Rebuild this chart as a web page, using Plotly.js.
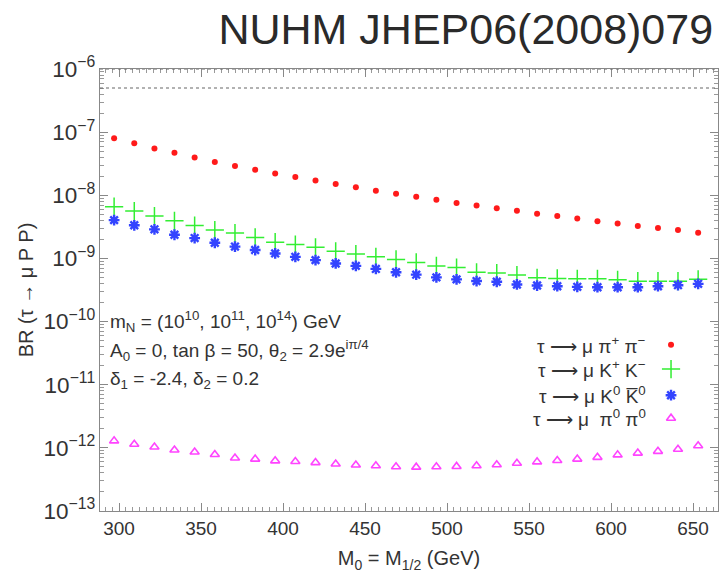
<!DOCTYPE html>
<html>
<head>
<meta charset="utf-8">
<script src="https://cdn.plot.ly/plotly-3.0.1.min.js"></script>
<style>
  html, body { margin: 0; padding: 0; background: #fff; }
  #chart { width: 724px; height: 574px; }
</style>
</head>
<body>
<div id="chart"></div>
<script>
// Common scalar mass M0 = M1/2 (GeV)
const massGeV = [297, 309.3, 321.6, 333.8, 346.1, 358.4, 370.7, 383.0, 395.2, 407.5,
                 419.8, 432.1, 444.4, 456.6, 468.9, 481.2, 493.5, 505.8, 518.0, 530.3,
                 542.6, 554.9, 567.2, 579.4, 591.7, 604.0, 616.3, 628.6, 640.8, 653.1];

// BR(tau -> mu pi+ pi-)
const brPiPi = [8.0e-8, 6.65e-8, 5.53e-8, 4.71e-8, 3.96e-8, 3.37e-8, 2.91e-8, 2.54e-8, 2.22e-8, 1.94e-8,
                1.71e-8, 1.51e-8, 1.34e-8, 1.18e-8, 1.06e-8, 9.46e-9, 8.47e-9, 7.57e-9, 6.86e-9, 6.22e-9,
                5.70e-9, 5.10e-9, 4.68e-9, 4.29e-9, 3.89e-9, 3.57e-9, 3.27e-9, 3.04e-9, 2.82e-9, 2.56e-9];

// BR(tau -> mu K+ K-)
const brKK = [6.6e-9, 5.64e-9, 4.68e-9, 3.94e-9, 3.31e-9, 2.82e-9, 2.52e-9, 2.15e-9, 1.81e-9, 1.66e-9,
              1.50e-9, 1.30e-9, 1.17e-9, 1.06e-9, 9.64e-10, 8.63e-10, 7.62e-10, 7.16e-10, 6.03e-10, 5.88e-10,
              5.46e-10, 4.94e-10, 4.83e-10, 4.77e-10, 4.77e-10, 4.59e-10, 4.37e-10, 4.37e-10, 4.37e-10, 4.66e-10];

// BR(tau -> mu K0 K0bar)
const brK0K0 = [4.04e-9, 3.35e-9, 2.89e-9, 2.37e-9, 2.10e-9, 1.77e-9, 1.54e-9, 1.36e-9, 1.20e-9, 1.06e-9,
                9.40e-10, 8.32e-10, 7.62e-10, 6.82e-10, 6.03e-10, 5.53e-10, 5.01e-10, 4.66e-10, 4.38e-10, 4.27e-10,
                3.87e-10, 3.72e-10, 3.63e-10, 3.55e-10, 3.50e-10, 3.50e-10, 3.50e-10, 3.63e-10, 3.77e-10, 3.96e-10];

// BR(tau -> mu pi0 pi0)
const brPi0Pi0 = [1.29e-12, 1.14e-12, 1.03e-12, 9.26e-13, 8.58e-13, 7.84e-13, 6.90e-13, 6.64e-13, 6.23e-13, 6.07e-13,
                  5.84e-13, 5.55e-13, 5.34e-13, 5.21e-13, 5.01e-13, 4.95e-13, 5.01e-13, 5.08e-13, 5.21e-13, 5.41e-13,
                  5.70e-13, 6.00e-13, 6.31e-13, 6.64e-13, 7.08e-13, 7.74e-13, 8.26e-13, 8.80e-13, 9.50e-13, 1.08e-12];

// Experimental upper bounds (dotted lines)
const upperBounds = [1.0e-6, 5.0e-7];

const xTicks = [300, 350, 400, 450, 500, 550, 600, 650];

const channelLabels = [
  "τ ⟶ μ π<sup>+</sup> π<sup>−</sup>",
  "τ ⟶ μ K<sup>+</sup> K<sup>−</sup>",
  "τ ⟶ μ K<sup>0</sup> K\u0305<sup>0</sup>",
  "τ ⟶ μ  π<sup>0</sup> π<sup>0</sup>"
];

const paramLines = [
  "m<sub>N</sub> = (10<sup>10</sup>, 10<sup>11</sup>, 10<sup>14</sup>) GeV",
  "A<sub>0</sub> = 0, tan β = 50, θ<sub>2</sub> = 2.9e<sup>iπ/4</sup>",
  "δ<sub>1</sub> = -2.4, δ<sub>2</sub> = 0.2"
];

const FONT = "Liberation Sans, Arial, sans-serif";
const TXT = "#333333";

const styles = [
  { symbol: "circle", size: 6, color: "#ff1a1a", line: { width: 0, color: "#ff1a1a" } },
  { symbol: "cross-thin-open", size: 13, color: "#33ee33", line: { width: 1.5, color: "#33ee33" } },
  { symbol: "asterisk-open", size: 9, color: "#3344ff", line: { width: 2.4, color: "#3344ff" } },
  { symbol: "triangle-up-open", size: 8, color: "#ff44ff", line: { width: 1.6, color: "#ff44ff" } }
];
const series = [brPiPi, brKK, brK0K0, brPi0Pi0];

const traces = series.map((ys, i) => ({
  type: "scatter", mode: "markers",
  x: massGeV, y: ys,
  marker: styles[i],
  showlegend: false, hoverinfo: "x+y"
}));

// Key markers sit on an overlay axis pair spanning [0,1]
const keyY = [0.376, 0.321, 0.262, 0.210];
styles.forEach((s, i) => {
  traces.push({
    type: "scatter", mode: "markers",
    x: [0.924], y: [keyY[i]],
    xaxis: "x2", yaxis: "y2",
    marker: s, showlegend: false, hoverinfo: "skip"
  });
});

const annotations = [];
channelLabels.forEach((t, i) => {
  annotations.push({
    xref: "paper", yref: "paper", x: 0.887, y: keyY[i],
    xanchor: "right", yanchor: "middle", showarrow: false,
    text: t, font: { family: FONT, size: 19, color: TXT }
  });
});
const paramY = [0.428, 0.364, 0.296];
paramLines.forEach((t, i) => {
  annotations.push({
    xref: "paper", yref: "paper", x: 0.013, y: paramY[i],
    xanchor: "left", yanchor: "middle", showarrow: false,
    text: t, font: { family: FONT, size: 19, color: TXT }
  });
});

const shapes = upperBounds.map(v => ({
  type: "line", xref: "paper", x0: 0, x1: 1, yref: "y", y0: v, y1: v,
  line: { color: "#666666", width: 1.2, dash: "dot" }
}));

const layout = {
  width: 724, height: 574,
  margin: { l: 100, r: 6, t: 69, b: 63 },
  paper_bgcolor: "#ffffff", plot_bgcolor: "#ffffff",
  font: { family: FONT, color: TXT },
  title: {
    text: "NUHM JHEP06(2008)079",
    x: 0.985, xanchor: "right", xref: "container",
    y: 0.95, yanchor: "middle", yref: "container",
    font: { family: FONT, size: 43, color: "#2a2a2a" }
  },
  xaxis: {
    range: [288.4, 665.2],
    tickvals: xTicks, ticktext: xTicks.map(String),
    ticks: "inside", ticklen: 8, tickcolor: "#888", tickwidth: 1,
    minor: { dtick: 50 / 12, tick0: 300, ticks: "inside", ticklen: 4, tickcolor: "#999" },
    showline: true, linecolor: "#888", linewidth: 1.2, mirror: "ticks",
    showgrid: false, zeroline: false,
    tickfont: { family: FONT, size: 19, color: TXT },
    title: { text: "M<sub>0</sub> = M<sub>1/2</sub> (GeV)", font: { family: FONT, size: 20, color: TXT }, standoff: 13 }
  },
  yaxis: {
    type: "log", range: [-13, -6], dtick: 1,
    exponentformat: "power", showexponent: "all",
    ticks: "inside", ticklen: 8, tickcolor: "#888", tickwidth: 1,
    minor: { dtick: "D1", ticks: "inside", ticklen: 4, tickcolor: "#999" },
    showline: true, linecolor: "#888", linewidth: 1.2, mirror: "ticks",
    showgrid: false, zeroline: false,
    tickfont: { family: FONT, size: 18, color: TXT },
    title: { text: "BR (τ → μ P P)", font: { family: FONT, size: 20, color: TXT }, standoff: 4 }
  },
  xaxis2: { overlaying: "x", range: [0, 1], visible: false, fixedrange: true },
  yaxis2: { overlaying: "y", range: [0, 1], visible: false, fixedrange: true },
  annotations: annotations,
  shapes: shapes,
  showlegend: false
};

Plotly.newPlot("chart", traces, layout, { displayModeBar: false, staticPlot: true });
</script>
</body>
</html>
